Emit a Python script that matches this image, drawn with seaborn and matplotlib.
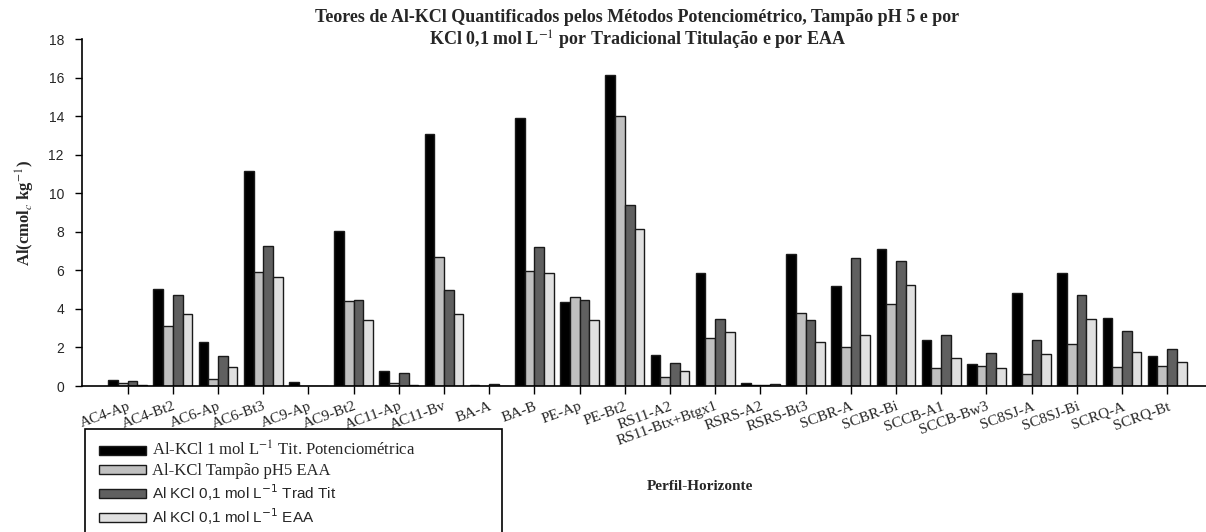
import matplotlib
matplotlib.use("Agg")
import matplotlib.pyplot as plt
import matplotlib.patches as mpatches
import numpy as np
import pandas as pd
import seaborn as sns

categories = ["AC4-Ap", "AC4-Bt2", "AC6-Ap", "AC6-Bt3", "AC9-Ap", "AC9-Bt2",
              "AC11-Ap", "AC11-Bv", "BA-A", "BA-B", "PE-Ap", "PE-Bt2",
              "RS11-A2", "RS11-Btx+Btgx1", "RSRS-A2", "RSRS-Bt3", "SCBR-A",
              "SCBR-Bi", "SCCB-A1", "SCCB-Bw3", "SC8SJ-A", "SC8SJ-Bi",
              "SCRQ-A", "SCRQ-Bt"]

kcl1_potenc = [0.31, 5.03, 2.26, 11.15, 0.19, 8.04, 0.80, 13.05, 0.03, 13.88,
               4.36, 16.15, 1.61, 5.84, 0.14, 6.86, 5.17, 7.10, 2.40, 1.16,
               4.81, 5.86, 3.51, 1.56]
tampao_ph5 = [0.14, 3.11, 0.36, 5.90, 0.0, 4.39, 0.14, 6.67, 0.0, 5.98,
              4.60, 14.00, 0.48, 2.51, 0.03, 3.79, 2.02, 4.25, 0.93, 1.05,
              0.60, 2.20, 0.99, 1.04]
kcl01_trad = [0.28, 4.70, 1.56, 7.26, 0.0, 4.44, 0.69, 5.00, 0.09, 7.19,
              4.48, 9.37, 1.21, 3.49, 0.07, 3.44, 6.62, 6.47, 2.63, 1.69,
              2.40, 4.72, 2.87, 1.92]
kcl01_eaa = [0.05, 3.72, 0.97, 5.64, 0.0, 3.40, 0.05, 3.72, 0.0, 5.84,
             3.41, 8.13, 0.78, 2.82, 0.09, 2.28, 2.65, 5.22, 1.47, 0.95,
             1.68, 3.49, 1.75, 1.26]

series_labels = ["Al-KCl 1 mol L$^{-1}$ Tit. Potenciométrica",
                 "Al-KCl Tampão pH5 EAA",
                 "Al KCl 0,1 mol L$^{-1}$ Trad Tit",
                 "Al KCl 0,1 mol L$^{-1}$ EAA"]
series_colors = ["#000000", "#c0c0c0", "#606060", "#e0e0e0"]
yticks = [0, 2, 4, 6, 8, 10, 12, 14, 16, 18]

title_line1 = "Teores de Al-KCl Quantificados pelos Métodos Potenciométrico, Tampão pH 5 e por"
title_line2 = "KCl 0,1 mol L$^{-1}$ por Tradicional Titulação e por EAA"
ylabel_text = "Al(cmol$_c$ kg$^{-1}$)"
xlabel_text = "Perfil-Horizonte"

# long-form table
keys = ["s0", "s1", "s2", "s3"]
vals = [kcl1_potenc, tampao_ph5, kcl01_trad, kcl01_eaa]
rows = []
for k, v in zip(keys, vals):
    for c, y in zip(categories, v):
        rows.append({"cat": c, "serie": k, "val": y})
df = pd.DataFrame(rows)

sns.set_style("ticks")
SERIF = "Liberation Serif"
SANS = "Liberation Sans"
plt.rcParams["font.family"] = [SANS, "DejaVu Sans"]

W, H = 1206, 532
fig = plt.figure(figsize=(W / 100, H / 100), dpi=100)
ax_left, ax_right = 82, 1206
ax_top, ax_bot = 39, 386
ax = fig.add_axes([ax_left / W, 1 - ax_bot / H, (ax_right - ax_left) / W, (ax_bot - ax_top) / H])

sns.barplot(data=df, x="cat", y="val", hue="serie", order=categories,
            hue_order=keys, palette=dict(zip(keys, series_colors)),
            width=0.86, gap=0, dodge=True, edgecolor="#1a1a1a", linewidth=1.0,
            saturation=1, legend=False, ax=ax, errorbar=None)

ax.set_ylim(0, 18)
ax.set_xlim(-1.01, 23.86)
ax.set_yticks(yticks)
ax.set_yticklabels([str(t) for t in yticks], fontsize=10, family=SANS)
ax.set_xticks(range(len(categories)))
ax.set_xticklabels(categories, rotation=20, ha="right", rotation_mode="anchor",
                   fontsize=11, family=SERIF)
ax.tick_params(axis="x", length=6, width=1.0, color="black", pad=4)
ax.tick_params(axis="y", length=5, width=1.0, color="black", pad=8)
for s in ["top", "right"]:
    ax.spines[s].set_visible(False)
for s in ["left", "bottom"]:
    ax.spines[s].set_linewidth(1.2)
    ax.spines[s].set_color("black")
ax.set_xlabel("")
ax.set_ylabel(ylabel_text, fontsize=12, fontweight="bold", family=SERIF,
              math_fontfamily="stix", labelpad=8)

fig.text(637 / W, 1 - 18 / H, title_line1, ha="center", va="center",
         fontsize=13, fontweight="bold", family=SERIF)
fig.text(637 / W, 1 - 40 / H, title_line2, ha="center", va="center",
         fontsize=13, fontweight="bold", family=SERIF, math_fontfamily="stix")
fig.text(700 / W, 1 - 487 / H, xlabel_text, ha="center", va="center",
         fontsize=11, fontweight="bold", family=SERIF)

# legend frame (box runs off the bottom of the figure)
frame = mpatches.Rectangle((85 / W, -0.02), (502 - 85) / W, (1 - 429 / H) + 0.02,
                           transform=fig.transFigure, facecolor="white",
                           edgecolor="black", linewidth=1.2, zorder=1)
fig.patches.append(frame)

handles = [mpatches.Patch(facecolor=c, edgecolor="#1a1a1a", linewidth=1.0)
           for c in series_colors]
leg = fig.legend(handles, series_labels, loc="upper left",
                 bbox_to_anchor=(99 / W, 1 - 441 / H), frameon=False,
                 fontsize=11, handlelength=3.05, handleheight=0.55,
                 labelspacing=0.2, borderpad=0, handletextpad=0.4,
                 borderaxespad=0)
for i, t in enumerate(leg.get_texts()):
    if i < 2:
        t.set_family(SERIF)
        t.set_math_fontfamily("stix")
        t.set_fontsize(12)
    else:
        t.set_family(SANS)
        t.set_math_fontfamily("dejavusans")

fig.savefig("out.png", dpi=100, facecolor="white")
